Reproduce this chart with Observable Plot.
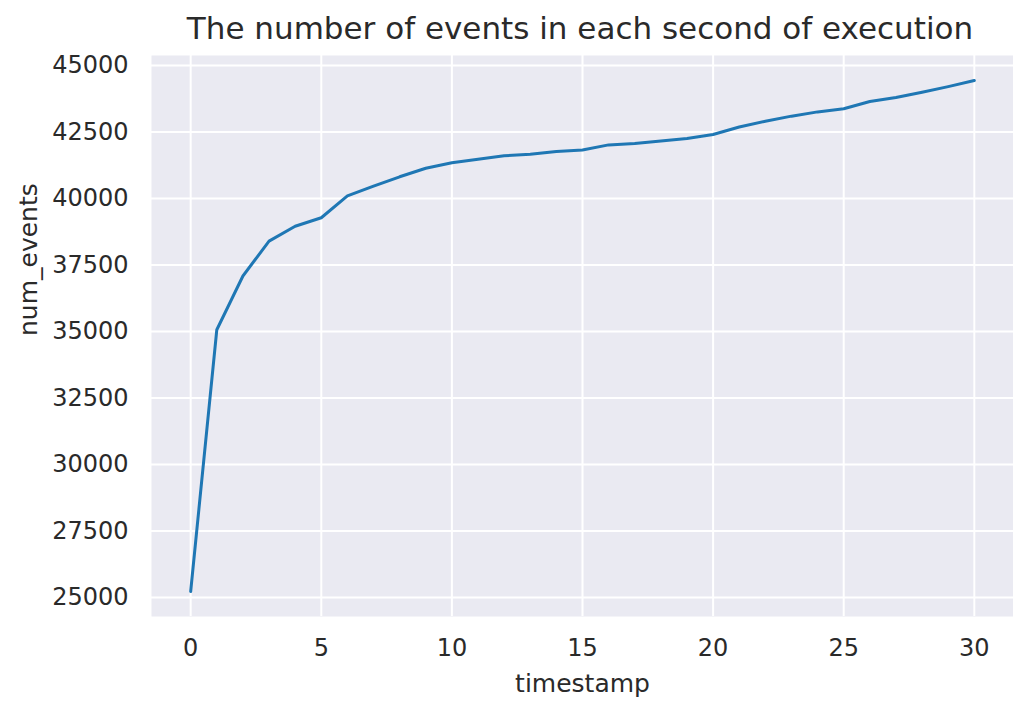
<!DOCTYPE html>
<html>
<head>
<meta charset="utf-8">
<script src="https://cdn.jsdelivr.net/npm/d3@7"></script>
<script src="https://cdn.jsdelivr.net/npm/@observablehq/plot@0.6"></script>
<style>
  html, body { margin: 0; padding: 0; background: #ffffff; }
  body { position: relative; width: 1013px; height: 704px; overflow: hidden; font-family: "DejaVu Sans", sans-serif; }
  #title { position: absolute; left: 0; top: 0; width: 1013px; height: 56px; line-height: 56px; text-align: center; font-size: 31px; color: #2a2a2a; padding-left: 147px; box-sizing: border-box; white-space: nowrap; z-index: 2; }
  #chart { position: absolute; left: 0; top: 35px; }
  #chart svg { display: block; overflow: visible; }
</style>
</head>
<body>
<div id="title">The number of events in each second of execution</div>
<div id="chart"></div>
<script>
const timestamps = [0, 1, 2, 3, 4, 5, 6, 7, 8, 9, 10, 11, 12, 13, 14, 15, 16, 17, 18, 19, 20, 21, 22, 23, 24, 25, 26, 27, 28, 29, 30];
const numEvents = [25230, 35070, 37090, 38400, 38960, 39280, 40100, 40470, 40820, 41140, 41350, 41480, 41610, 41670, 41770, 41830, 42020, 42070, 42170, 42260, 42410, 42690, 42910, 43100, 43260, 43380, 43650, 43800, 44000, 44210, 44440];
const xTicks = [0, 5, 10, 15, 20, 25, 30];
const yTicks = [25000, 27500, 30000, 32500, 35000, 37500, 40000, 42500, 45000];
const xLabel = "timestamp";
const yLabel = "num_events";

const data = timestamps.map((t, i) => ({timestamp: t, num_events: numEvents[i]}));

const textColor = "#2a2a2a";

const chart = Plot.plot({
  width: 1013,
  height: 669,
  marginTop: 20,
  marginLeft: 151,
  marginRight: 0,
  marginBottom: 88,
  style: {fontFamily: "DejaVu Sans, sans-serif", color: textColor, background: "transparent"},
  x: {domain: [-1.5, 31.5]},
  y: {domain: [24290, 45380]},
  marks: [
    Plot.frame({fill: "#eaeaf2", stroke: null}),
    Plot.gridX(xTicks, {stroke: "#ffffff", strokeOpacity: 1, strokeWidth: 2}),
    Plot.gridY(yTicks, {stroke: "#ffffff", strokeOpacity: 1, strokeWidth: 2}),
    Plot.axisX(xTicks, {tickSize: 0, tickPadding: 22, fontSize: 24, label: null, fill: textColor}),
    Plot.axisY(yTicks, {tickSize: 0, tickPadding: 23, fontSize: 24, label: null, fill: textColor, tickFormat: d => String(d)}),
    Plot.line(data, {x: "timestamp", y: "num_events", stroke: "#1f77b4", strokeWidth: 3}),
    Plot.text([xLabel], {frameAnchor: "bottom", dy: 75, text: d => d, fontSize: 25, fill: textColor}),
    Plot.text([yLabel], {frameAnchor: "left", dx: -123, rotate: -90, text: d => d, fontSize: 25, fill: textColor})
  ]
});
document.getElementById("chart").appendChild(chart);
</script>
</body>
</html>
